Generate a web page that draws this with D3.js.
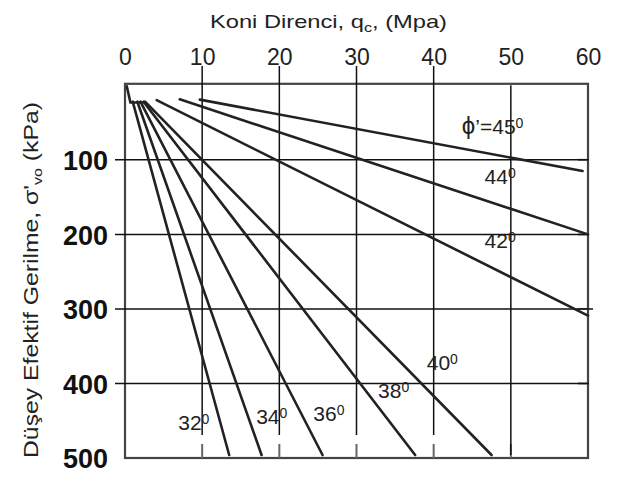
<!DOCTYPE html>
<html><head><meta charset="utf-8">
<script src="https://cdn.jsdelivr.net/npm/d3@7"></script>
<style>html,body{margin:0;padding:0;background:#fff;}svg{display:block;}</style>
</head><body>
<svg id="c" width="621" height="490"></svg>
<script>
// ---- data ----
const qTicks = [0, 10, 20, 30, 40, 50, 60];
const sTicks = [100, 200, 300, 400, 500];
const gridQ = [10, 20, 30, 40, 50];
const gridS = [100, 200, 300, 400];
const angles = ["32", "34", "36", "38", "40", "42", "44", "45"];
const startQ = [1.0, 1.6, 2.0, 2.4, 2.6, 4.1, 7.1, 9.7];
const startS = [22, 22, 22, 22, 22, 20, 18.8, 19.2];
const endQ = [13.5, 17.7, 25.6, 37.6, 47.5, 60.0, 60.0, 59.3];
const endS = [496, 496, 496, 496, 496, 309, 200, 115];
const footQ = [0.2, 0.7, 2.4];
const footS = [0, 23, 23];
const labelQ = [6.9, 17.0, 24.4, 32.8, 39.1, 46.6, 46.6, 43.65];
const labelS = [462.5, 454.4, 450.4, 419.6, 382, 218.5, 132.7, 65.7];

const svg = d3.select("#c");
const x = d3.scaleLinear().domain([0, 60]).range([125, 588]);
const y = d3.scaleLinear().domain([0, 500]).range([85.3, 458]);
const font = "'Liberation Sans', Arial, sans-serif";

// title
const t = svg.append("text").attr("x", 210).attr("y", 28)
  .attr("textLength", 237).attr("lengthAdjust", "spacingAndGlyphs")
  .attr("font-family", font).attr("font-size", 19).attr("fill", "#222");
t.append("tspan").text("Koni Direnci, q");
t.append("tspan").attr("font-size", 13).attr("dy", 4).text("c");
t.append("tspan").attr("dy", -4).text(", (Mpa)");

// y title
const yt = svg.append("text").attr("transform", "translate(38,458) rotate(-90)")
  .attr("textLength", 356).attr("lengthAdjust", "spacingAndGlyphs")
  .attr("font-family", font).attr("font-size", 20).attr("fill", "#222");
yt.append("tspan").text("Düşey Efektif Gerilme, σ'");
yt.append("tspan").attr("font-size", 13).attr("dy", 4).text("vo");
yt.append("tspan").attr("dy", -4).text(" (kPa)");

// top axis labels
const topAxis = d3.axisTop(x).tickValues(qTicks).tickSize(0).tickPadding(0);
const gTop = svg.append("g").attr("transform", "translate(0,65)").call(topAxis);
gTop.select(".domain").remove();
gTop.selectAll("text").attr("font-family", font).attr("font-size", 23).attr("fill", "#222").attr("dy", 0);

// left axis labels
const leftAxis = d3.axisLeft(y).tickValues(sTicks).tickSize(0).tickPadding(0);
const gLeft = svg.append("g").attr("transform", "translate(108,0)").call(leftAxis);
gLeft.select(".domain").remove();
gLeft.selectAll("text").attr("font-family", font).attr("font-size", 27).attr("font-weight", "bold")
  .attr("fill", "#111").attr("dy", "0.36em");

// frame
svg.append("rect").attr("x", x(0)).attr("y", y(0) - 1.5).attr("width", x(60) - x(0))
  .attr("height", y(500) - y(0) + 1.5).attr("fill", "none").attr("stroke", "#444").attr("stroke-width", 2.2);

// original small ticks
svg.append("g").selectAll("line").data(gridQ).join("line")
  .attr("x1", d => x(d)).attr("x2", d => x(d)).attr("y1", y(500) - 14).attr("y2", y(500))
  .attr("stroke", "#666").attr("stroke-width", 2);
svg.append("g").selectAll("line").data(gridS).join("line")
  .attr("x1", x(60) - 10).attr("x2", x(60)).attr("y1", d => y(d)).attr("y2", d => y(d))
  .attr("stroke", "#666").attr("stroke-width", 2);

// grid
svg.append("g").selectAll("line").data(gridQ).join("line")
  .attr("x1", d => x(d)).attr("x2", d => x(d))
  .attr("y1", d => d === 50 ? y(0) : 66).attr("y2", d => d === 50 ? y(500) - 3 : 435)
  .attr("stroke", "#111").attr("stroke-width", 1.5);
svg.append("g").selectAll("line").data(gridS).join("line")
  .attr("x1", 115).attr("x2", d => d === 300 ? 593 : x(60) + 1)
  .attr("y1", d => y(d)).attr("y2", d => y(d))
  .attr("stroke", "#111").attr("stroke-width", 1.5);

// curves
const line = d3.line().x(d => x(d[0])).y(d => y(d[1]));
svg.append("path").attr("d", line(footQ.map((q, i) => [q, footS[i]])))
  .attr("fill", "none").attr("stroke", "#222").attr("stroke-width", 2.6);
svg.append("g").selectAll("path").data(angles).join("path")
  .attr("d", (a, i) => line([[startQ[i], startS[i]], [endQ[i], endS[i]]]))
  .attr("fill", "none").attr("stroke", "#222").attr("stroke-width", 2.6).attr("stroke-linecap", "round");

// labels
const lab = svg.append("g").selectAll("text").data(angles).join("text")
  .attr("x", (a, i) => x(labelQ[i])).attr("y", (a, i) => y(labelS[i]))
  .attr("font-family", font).attr("font-size", 21).attr("fill", "#222");
lab.each(function (a, i) {
  const el = d3.select(this);
  if (a === "45") el.append("tspan").attr("font-size", 24).text("ϕ");
  if (a === "45") el.append("tspan").text("’=");
  el.append("tspan").text(a);
  el.append("tspan").attr("font-size", 14).attr("dy", -6).text("0");
});
</script>
</body></html>
